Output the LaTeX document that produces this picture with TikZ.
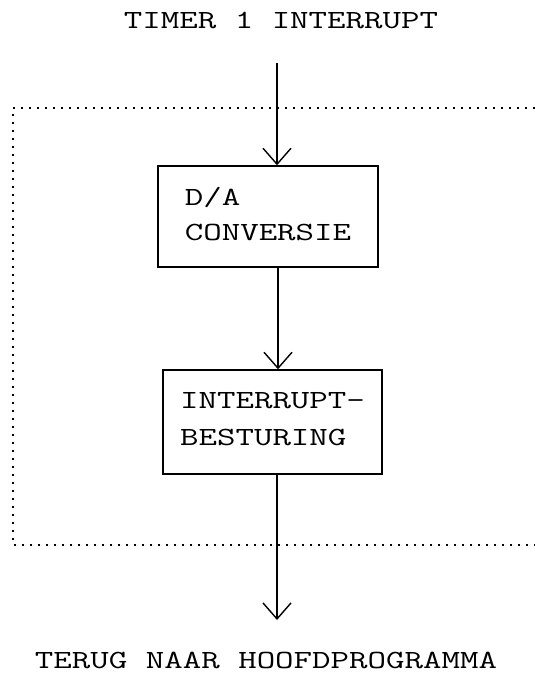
\documentclass[tikz,border=0pt]{standalone}
\usepackage{fontspec}
\newfontfamily\typewriter[FakeStretch=1.37]{Latin Modern Mono}
\usetikzlibrary{arrows.meta}
\begin{document}
\begin{tikzpicture}[x=1pt, y=-1pt,
  lbl/.style={font=\typewriter\fontsize{26.2}{35}\selectfont, inner sep=0pt},
  stepbox/.style={draw, line width=1.4pt, align=left, inner ysep=0pt},
  flow/.style={line width=1.4pt, -{Straight Barb[length=16pt, width=28pt]}},
  frame/.style={line width=1.6pt, dash pattern=on 1.6pt off 6.4pt}
]
\useasboundingbox (0,0) rectangle (535,675);

% dotted frame around the interrupt routine (open on the right)
\draw[frame] (535,108) -| (13,545) -- (535,545);

% labels
\node[lbl, anchor=base] (src) at (281,28) {TIMER 1 INTERRUPT};
\node[lbl, anchor=base] (dst) at (266,668) {TERUG NAAR HOOFDPROGRAMMA};

% processing steps
\node[stepbox, font=\typewriter\fontsize{26.2}{35}\selectfont,
  inner xsep=26pt, minimum width=220pt, minimum height=101pt]
  (da) at (268,216.5) {D/A\\CONVERSIE\vphantom{g}};
\node[stepbox, font=\typewriter\fontsize{26.2}{37}\selectfont,
  inner xsep=17pt, minimum width=219pt, minimum height=104pt]
  (ib) at (272.5,422) {INTERRUPT-\\BESTURING\vphantom{g}};

% connectors
\coordinate (in) at (277,63);
\coordinate (mid) at (278,0);
\coordinate (out) at (277,620);
\draw[flow] (in) -- (in |- da.north);
\draw[flow] (da.south -| mid) -- (ib.north -| mid);
\draw[flow] (ib.south -| out) -- (out);
\end{tikzpicture}
\end{document}
